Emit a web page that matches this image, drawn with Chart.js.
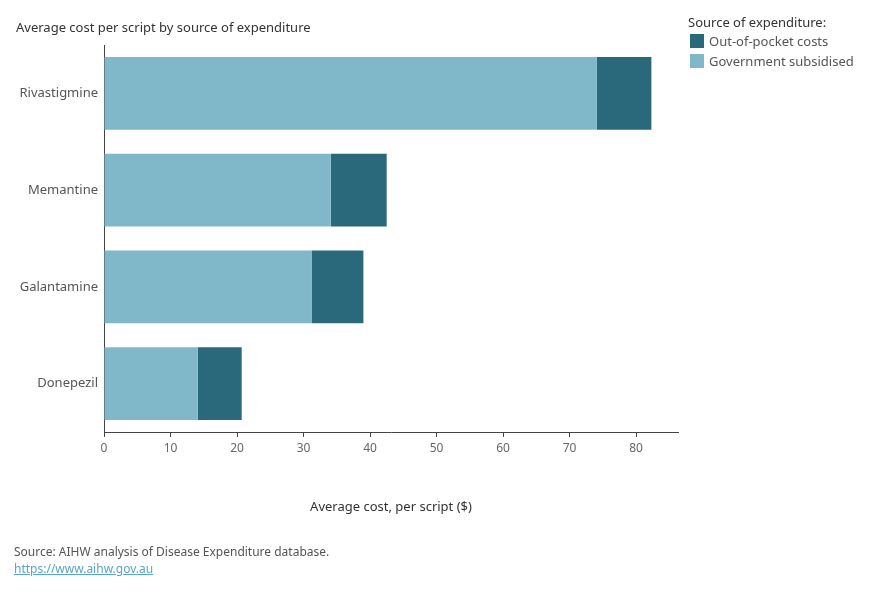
<!DOCTYPE html>
<html>
<head>
<meta charset="utf-8">
<script src="https://cdn.jsdelivr.net/npm/chart.js@4"></script>
<style>
    body { margin: 0; background: #fff; font-family: "Noto Sans", sans-serif; }
    #wrap { position: relative; width: 890px; height: 600px; }
    #chart { position: absolute; left: 0; top: 0; }
    .title { position: absolute; left: 16px; top: 18px; font-size: 13px; color: #333; }
    .legend { position: absolute; left: 688px; top: 13px; font-size: 13px; color: #333; }
    .legend .item { display: flex; align-items: center; color: #555; height: 20px; margin-left: 2px; }
    .legend .swatch { width: 14px; height: 14px; margin-right: 5px; }
    .source { position: absolute; left: 14px; top: 543px; font-size: 12px; color: #555; line-height: 17px; }
    .source a { color: #5ba5c4; }
</style>
</head>
<body>
<div id="wrap">
    <canvas id="chart" width="890" height="600"></canvas>
    <div class="title">Average cost per script by source of expenditure</div>
    <div class="legend" id="legend"><div>Source of expenditure:</div></div>
    <div class="source">Source: AIHW analysis of Disease Expenditure database.<br><a href="https://www.aihw.gov.au">https://www.aihw.gov.au</a></div>
</div>
<script>
// Data
const drugs = ['Rivastigmine', 'Memantine', 'Galantamine', 'Donepezil'];
const governmentSubsidised = [74.1, 34.1, 31.2, 14.1];
const outOfPocket = [8.2, 8.4, 7.8, 6.6];
const xTicks = [0, 10, 20, 30, 40, 50, 60, 70, 80];

const darkTeal = '#2a687c';
const lightTeal = '#80b8ca';

// Legend (out-of-pocket listed first, as in the original)
const legendItems = [
    { label: 'Out-of-pocket costs', color: darkTeal },
    { label: 'Government subsidised', color: lightTeal }
];
const legend = document.getElementById('legend');
legendItems.forEach(item => {
    legend.innerHTML += `<div class="item"><span class="swatch" style="background:${item.color}"></span>${item.label}</div>`;
});

const ctx = document.getElementById('chart').getContext('2d');
new Chart(ctx, {
    type: 'bar',
    data: {
        labels: drugs,
        datasets: [
            { label: 'Government subsidised', data: governmentSubsidised, backgroundColor: lightTeal },
            { label: 'Out-of-pocket costs', data: outOfPocket, backgroundColor: darkTeal }
        ]
    },
    options: {
        indexAxis: 'y',
        responsive: false,
        animation: false,
        layout: { padding: { left: 0, right: 212, top: 45, bottom: 68 } },
        datasets: { bar: { barPercentage: 0.75, categoryPercentage: 1 } },
        plugins: { legend: { display: false }, tooltip: { enabled: false } },
        scales: {
            x: {
                stacked: true,
                min: 0,
                max: 86.3,
                afterFit: s => { s.height = 100; },
                afterBuildTicks: s => { s.ticks = xTicks.map(v => ({ value: v })); },
                border: { color: '#444', width: 1 },
                grid: { drawOnChartArea: false, tickLength: 5, color: '#444' },
                ticks: { color: '#666', padding: 4, font: { family: 'Noto Sans', size: 12 } },
                title: {
                    display: true,
                    text: 'Average cost, per script ($)',
                    color: '#333',
                    padding: { bottom: 17 },
                    font: { family: 'Noto Sans', size: 13 }
                }
            },
            y: {
                stacked: true,
                afterFit: s => { s.width = 104; },
                border: { color: '#444', width: 1 },
                grid: { display: false, drawTicks: false },
                ticks: { color: '#555', padding: 6, font: { family: 'Noto Sans', size: 13 } }
            }
        }
    }
});
</script>
</body>
</html>
